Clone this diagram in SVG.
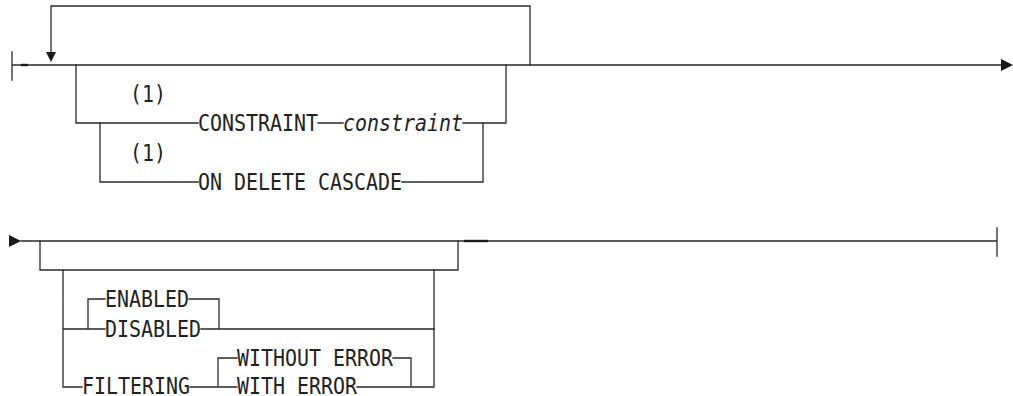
<svg xmlns="http://www.w3.org/2000/svg" width="1013" height="396" viewBox="0 0 1013 396">
<style>
.ln{fill:none;stroke:#2a2a2a;stroke-width:1.3;stroke-linecap:square}
.th{fill:none;stroke:#1a1a1a;stroke-width:2.4}
.ah{fill:#1a1a1a}
.t{font-family:"DejaVu Sans Mono","Liberation Mono",monospace;font-size:23.5px;fill:#222}
.i{font-style:italic}
</style>
<rect width="1013" height="396" fill="#fff"/>
<g id="connectors">
<path class="ln" d="M12,52 V80 M12,65 H1001"/>
<path class="th" d="M21,65 H28"/>
<polygon class="ah" points="1001,59 1013,65 1001,71"/>
<path class="ln" d="M530,65 V6 H51 V52"/>
<polygon class="ah" points="46,52 56,52 51,62"/>
<path class="ln" d="M76,65 V123 H198 M318,123 H343 M463,123 H506 V65"/>
<path class="ln" d="M100,123 V182 H198 M402,182 H483 V123"/>
<polygon class="ah" points="9,235 21,241 9,247"/>
<path class="ln" d="M21,241 H997 M997,228 V256"/>
<path class="th" d="M464,241 H488"/>
<path class="ln" d="M40,241 V270 H458 V241"/>
<path class="ln" d="M63,270 V387 H82 M63,329 H105 M88,329 V299 H105 M189,299 H219 V329 M201,329 H434 V270"/>
<path class="ln" d="M190,387 H237 M218,387 V358 H237 M393,358 H411 V387 M357,387 H434 V329"/>
</g>
<g id="note1a"><text class="t" x="130" y="101.5" textLength="36" lengthAdjust="spacingAndGlyphs">(1)</text></g>
<g id="constraint-kw"><text class="t" x="198" y="131" textLength="120" lengthAdjust="spacingAndGlyphs">CONSTRAINT</text></g>
<g id="constraint-var"><text class="t i" x="343" y="131" textLength="120" lengthAdjust="spacingAndGlyphs">constraint</text></g>
<g id="note1b"><text class="t" x="130" y="160.5" textLength="36" lengthAdjust="spacingAndGlyphs">(1)</text></g>
<g id="on-delete-cascade"><text class="t" x="198" y="190" textLength="204" lengthAdjust="spacingAndGlyphs">ON DELETE CASCADE</text></g>
<g id="enabled"><text class="t" x="105" y="306.5" textLength="84" lengthAdjust="spacingAndGlyphs">ENABLED</text></g>
<g id="disabled"><text class="t" x="105" y="336.5" textLength="96" lengthAdjust="spacingAndGlyphs">DISABLED</text></g>
<g id="filtering"><text class="t" x="82" y="393.5" textLength="108" lengthAdjust="spacingAndGlyphs">FILTERING</text></g>
<g id="without-error"><text class="t" x="237" y="365.5" textLength="156" lengthAdjust="spacingAndGlyphs">WITHOUT ERROR</text></g>
<g id="with-error"><text class="t" x="237" y="393.5" textLength="120" lengthAdjust="spacingAndGlyphs">WITH ERROR</text></g>
</svg>
